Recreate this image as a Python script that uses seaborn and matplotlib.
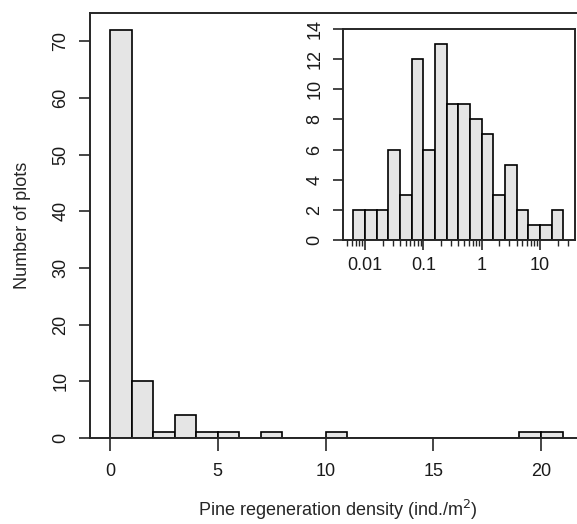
import numpy as np
import matplotlib
matplotlib.use("Agg")
import matplotlib.pyplot as plt
import matplotlib.ticker as mticker
import seaborn as sns

# Data - main histogram (bin centres, width 1) and counts
density_mid = [0.5, 1.5, 2.5, 3.5, 4.5, 5.5, 7.5, 10.5, 19.5, 20.5]
plot_counts = [72, 10, 1, 4, 1, 1, 1, 1, 1, 1]

# Data - inset on log scale (approx bin centres of 0.2-decade bins)
log_mid = [0.0079, 0.0126, 0.02, 0.0316, 0.05, 0.079, 0.126, 0.2, 0.316,
           0.5, 0.79, 1.26, 2.0, 3.16, 5.0, 7.9, 12.6, 20.0]
log_counts = [2, 2, 2, 6, 3, 12, 6, 13, 9, 9, 8, 7, 3, 5, 2, 1, 1, 2]

sns.set_style("ticks")
plt.rcParams['font.family'] = ['Liberation Sans', 'DejaVu Sans']
plt.rcParams['font.size'] = 13
plt.rcParams['text.color'] = '#1a1a1a'
plt.rcParams['xtick.labelcolor'] = '#1a1a1a'
plt.rcParams['ytick.labelcolor'] = '#1a1a1a'

bar_kw = dict(color="#e5e5e5", edgecolor="black", linewidth=1.2, alpha=1)

fig = plt.figure(figsize=(5.77, 5.24), dpi=100)

# main plot
ax = fig.add_axes([0.156, 0.164, 0.86, 0.811])
sns.histplot(x=density_mid, weights=plot_counts, binwidth=1, binrange=(0, 21),
             ax=ax, **bar_kw)
ax.set_xlim(-0.93, 22.1)
ax.set_ylim(0, 75)
ax.set_xticks([0, 5, 10, 15, 20])
ax.set_yticks(range(0, 71, 10))
ax.tick_params(axis='y', labelrotation=90, length=8, width=1.2, pad=7)
ax.tick_params(axis='x', length=9, width=1.2, pad=9)
for lab in ax.get_yticklabels():
    lab.set_va('center')
ax.spines['right'].set_visible(False)
for s in ['left', 'top', 'bottom']:
    ax.spines[s].set_linewidth(1.4)
ax.set_xlabel('Pine regeneration density (ind./m$^2$)', labelpad=13)
ax.set_ylabel('Number of plots', labelpad=15)

# inset
axi = fig.add_axes([0.5945, 0.542, 0.402, 0.4027])
sns.histplot(x=log_mid, weights=log_counts, log_scale=True, binwidth=0.2,
             binrange=(-2.2, 1.4), ax=axi, **bar_kw)
axi.set_xlim(0.0042, 39.8)
axi.set_ylim(0, 14)
axi.set_yticks(range(0, 15, 2))
axi.xaxis.set_major_locator(mticker.FixedLocator([0.01, 0.1, 1, 10]))
axi.xaxis.set_major_formatter(mticker.FixedFormatter(['0.01', '0.1', '1', '10']))
axi.xaxis.set_minor_locator(mticker.LogLocator(base=10, subs=np.arange(2, 10)))
axi.xaxis.set_minor_formatter(mticker.NullFormatter())
axi.tick_params(axis='y', labelrotation=90, length=7, width=1.2, pad=7)
axi.tick_params(axis='x', which='major', length=7, width=1.2, pad=5)
axi.tick_params(axis='x', which='minor', length=4, width=1.0)
for lab in axi.get_yticklabels():
    lab.set_va('center')
for s in axi.spines.values():
    s.set_linewidth(1.4)
axi.set_xlabel('')
axi.set_ylabel('')

fig.savefig('out.png', dpi=100)
